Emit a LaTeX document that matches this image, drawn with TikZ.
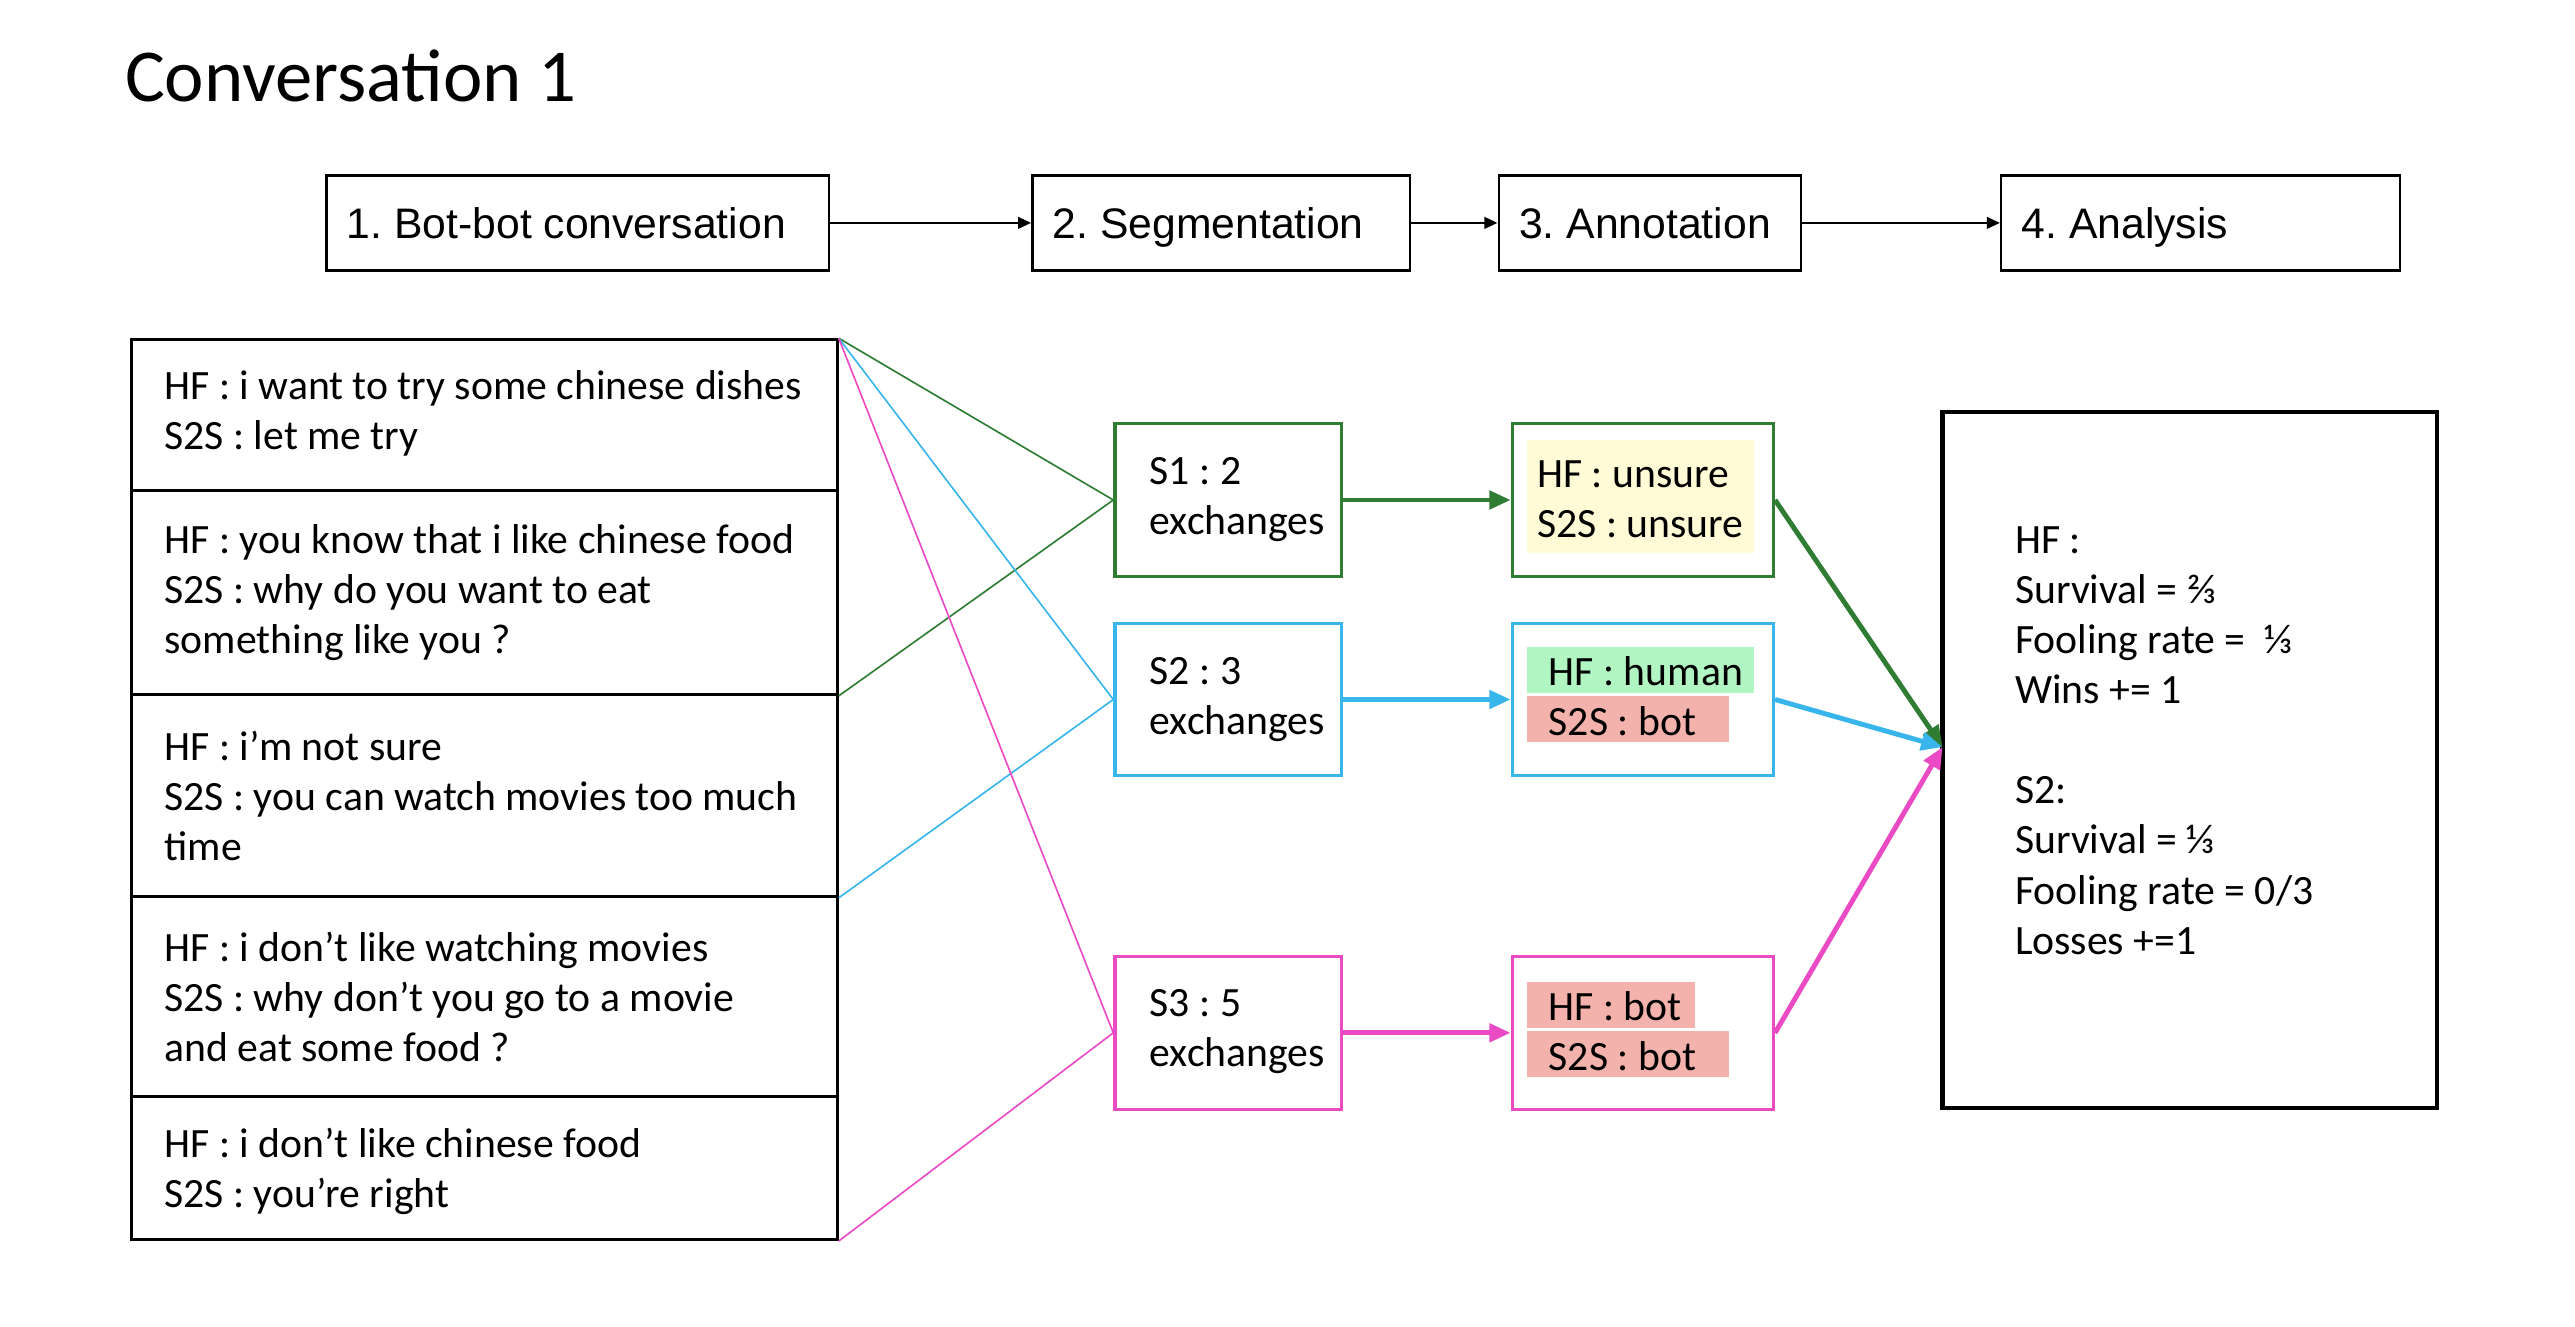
\documentclass[tikz,border=0pt]{standalone}
\usepackage{fontspec}
\setmainfont{Carlito}
\newfontfamily\arialf{Liberation Sans}
\usetikzlibrary{arrows.meta}
\definecolor{cgreen}{HTML}{2E7D32}
\definecolor{cblue}{HTML}{38B6EC}
\definecolor{cmag}{HTML}{EA4AC4}
\definecolor{hyellow}{HTML}{FFFBD6}
\definecolor{hgreen}{HTML}{B1F5C2}
\definecolor{hred}{HTML}{F4B2AC}
\frenchspacing
\begin{document}
\begin{tikzpicture}[x=1pt,y=-1pt,
  txt/.style={font=\fontsize{25.4}{30.5}\selectfont, inner sep=0pt, align=left, anchor=west},
  topbox/.style={draw, line width=1.5pt, anchor=north west, minimum height=58pt, inner sep=0pt},
  toplabel/.style={anchor=base west, inner sep=0pt, font=\arialf\fontsize{26}{30}\selectfont},
  convbox/.style={draw, line width=1.8pt, anchor=north west, minimum width=430pt, inner sep=0pt},
  segbox/.style={line width=2pt, minimum width=138pt, minimum height=93pt, inner sep=0pt},
  annbox/.style={line width=2pt, minimum width=159pt, minimum height=93pt, inner sep=0pt},
  thinarrow/.style={line width=1.5pt, -{Triangle[length=8pt,width=7pt]}},
  thickarrow/.style={line width=3pt, -{Triangle[length=13pt,width=11pt]}},
  link/.style={line width=1pt}
]
\useasboundingbox (0,0) rectangle (1568.2,807.6);

% title
\node[anchor=base west, inner sep=0pt, font=\fontsize{45.5}{50}\selectfont] (title) at (76,62) {Conversation 1};

% top row
\node[topbox, minimum width=306pt] (b1) at (198,106) {};
\node[topbox, minimum width=230pt] (b2) at (628,106) {};
\node[topbox, minimum width=184pt] (b3) at (912,106) {};
\node[topbox, minimum width=243pt] (b4) at (1218,106) {};
\node[toplabel] (b1t) at ([xshift=13pt,yshift=-9.3pt]b1.west) {1. Bot-bot conversation};
\node[toplabel] (b2t) at ([xshift=13pt,yshift=-9.3pt]b2.west) {2. Segmentation};
\node[toplabel] (b3t) at ([xshift=13pt,yshift=-9.3pt]b3.west) {3. Annotation};
\node[toplabel] (b4t) at ([xshift=13pt,yshift=-9.3pt]b4.west) {4. Analysis};
\draw[thinarrow] (b1) -- (b2);
\draw[thinarrow] (b2) -- (b3);
\draw[thinarrow] (b3) -- (b4);

% conversation boxes
\node[convbox, minimum height=92pt] (c1) at (79,206) {};
\node[convbox, minimum height=124pt] (c2) at (79,298) {};
\node[convbox, minimum height=123pt] (c3) at (79,422) {};
\node[convbox, minimum height=122pt] (c4) at (79,545) {};
\node[convbox, minimum height=87pt] (c5) at (79,667) {};
\node[txt] (t1) at (100,252) {HF : i want to try some chinese dishes\\S2S : let me try};
\node[txt] (t2) at (100,361) {HF : you know that i like chinese food\\S2S : why do you want to eat\\something like you ?};
\node[txt] (t3) at (100,484.5) {HF : i’m not sure\\S2S : you can watch movies too much\\time};
\node[txt] (t4) at (100,607) {HF : i don’t like watching movies\\S2S : why don’t you go to a movie\\and eat some food ?};
\node[txt] (t5) at (100,713.5) {HF : i don’t like chinese food\\S2S : you’re right};

% segment boxes
\node[segbox, draw=cgreen] (s1) at (748,304.5) {};
\node[segbox, draw=cblue] (s2) at (748,426) {};
\node[segbox, draw=cmag] (s3) at (748,629) {};
\node[txt] (s1t) at (700,304) {S1 : 2\\exchanges};
\node[txt] (s2t) at (700,426) {S2 : 3\\exchanges};
\node[txt] (s3t) at (700,628) {S3 : 5\\exchanges};

% links
\draw[link, cgreen] (c1.north east) -- (s1.west);
\draw[link, cgreen] (c2.south east) -- (s1.west);
\draw[link, cblue] (c1.north east) -- (s2.west);
\draw[link, cblue] (c3.south east) -- (s2.west);
\draw[link, cmag] (c1.north east) -- (s3.west);
\draw[link, cmag] (c5.south east) -- (s3.west);

% annotation boxes
\node[annbox, draw=cgreen] (a1) at (1000.5,304.5) {};
\node[annbox, draw=cblue] (a2) at (1000.5,426) {};
\node[annbox, draw=cmag] (a3) at (1000.5,629) {};
\fill[hyellow] (930,268) rectangle (1068,337);
\fill[hgreen] (930,394) rectangle (1068,422);
\fill[hred] (930,424) rectangle (1053,452);
\fill[hred] (930,598) rectangle (1032,626);
\fill[hred] (930,628) rectangle (1053,656);
\node[txt] (a1t) at (936,304) {HF : unsure\\S2S : unsure};
\node[txt] (a2t) at (943,424) {HF : human\\S2S : bot};
\node[txt] (a3t) at (943,628) {HF : bot\\S2S : bot};

% analysis
\node[draw, line width=2.5pt, minimum width=301pt, minimum height=424pt, inner sep=0pt] (an) at (1333.5,463) {};
\node[txt] (ant) at (1227,451) {HF :\\Survival = ⅔\\Fooling rate =\ \ ⅓\\Wins += 1\\[30.5pt]S2:\\Survival = ⅓\\Fooling rate = 0/3\\Losses +=1};
\coordinate (tip) at (1183,455);

% arrows
\draw[thickarrow, cgreen] (s1) -- (a1);
\draw[thickarrow, cblue] (s2) -- (a2);
\draw[thickarrow, cmag] (s3) -- (a3);
\draw[thickarrow, cgreen] (a1.east) -- (tip);
\draw[thickarrow, cblue] (a2.east) -- (tip);
\draw[thickarrow, cmag] (a3.east) -- (tip);
\end{tikzpicture}
\end{document}
